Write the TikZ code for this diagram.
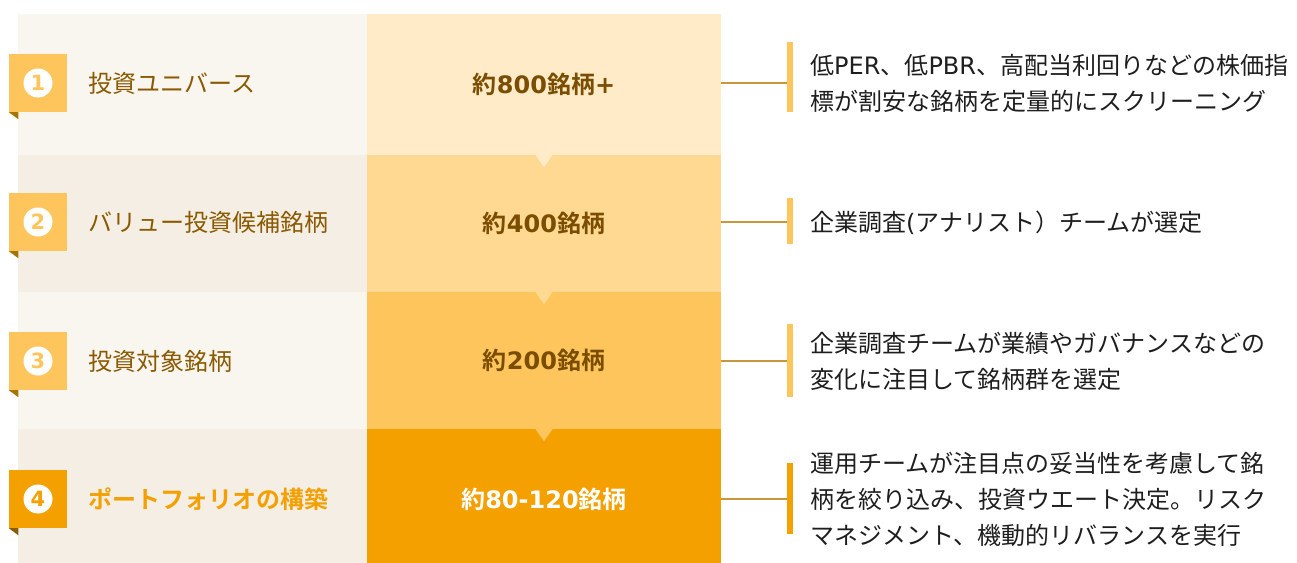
\documentclass[tikz,border=0pt]{standalone}
\usepackage{fontspec}
\newfontfamily\jp{Noto Sans CJK JP}[BoldFont={Noto Sans CJK JP Bold}]
\newfontfamily\lat{DejaVu Sans}
\newcommand\LT[1]{{\lat #1}}
\definecolor{leftA}{HTML}{F9F5EF}
\definecolor{leftB}{HTML}{F5EEE4}
\definecolor{midA}{HTML}{FFEBC8}
\definecolor{midB}{HTML}{FFD892}
\definecolor{midC}{HTML}{FEC55C}
\definecolor{midD}{HTML}{F4A000}
\definecolor{foldA}{HTML}{A87400}
\definecolor{foldD}{HTML}{8A5C00}
\definecolor{lbltext}{HTML}{8A5A00}
\definecolor{midtext}{HTML}{7A4D00}
\definecolor{desctext}{HTML}{1E1E1E}
\definecolor{connc}{HTML}{C8963C}
\begin{document}
\begin{tikzpicture}[x=1pt,y=-1pt,
  midbox/.style={inner sep=0, minimum width=354pt, font=\jp\bfseries\fontsize{24}{28}\selectfont, text=midtext},
  badge/.style={fill=midC, minimum size=58pt, inner sep=0},
  numc/.style={circle, fill=white, minimum size=29pt, inner sep=0, font=\lat\bfseries\fontsize{21}{21}\selectfont, text=midC},
  lbl/.style={anchor=west, inner sep=0, font=\jp\fontsize{24}{28}\selectfont, text=lbltext},
  desc/.style={anchor=west, inner sep=0, align=left, font=\jp\fontsize{24}{36}\selectfont, text=desctext},
  barbox/.style={fill=midC, minimum width=6pt, inner sep=0},
  conn/.style={draw=connc, line width=1.5pt}]
\useasboundingbox (0,0) rectangle (1297,562);
% left panels
\fill[leftA] (18,14) rectangle (367,155);
\fill[leftB] (18,155) rectangle (367,292);
\fill[leftA] (18,292) rectangle (367,429);
\fill[leftB] (18,429) rectangle (367,570);
% middle column
\node[midbox, fill=midA, minimum height=141pt] (m1) at (544,84.5) {約\LT{800}銘柄\LT{+}};
\node[midbox, fill=midB, minimum height=137pt] (m2) at (544,223.5) {約\LT{400}銘柄};
\node[midbox, fill=midC, minimum height=137pt] (m3) at (544,360.5) {約\LT{200}銘柄};
\node[midbox, fill=midD, minimum height=140pt, text=white] (m4) at (544,499) {約\LT{80-120}銘柄};
% notches
\fill[midA] (m1.south) ++(-8.5,0) -- ++(17,0) -- ++(-8.5,12) -- cycle;
\fill[midB] (m2.south) ++(-8.5,0) -- ++(17,0) -- ++(-8.5,12) -- cycle;
\fill[midC] (m3.south) ++(-8.5,0) -- ++(17,0) -- ++(-8.5,12) -- cycle;
% badges
\node[badge] (n1) at (38,83) {};
\node[badge] (n2) at (38,222) {};
\node[badge] (n3) at (38,361) {};
\node[badge, fill=midD] (n4) at (38,499) {};
\fill[foldA] (n1.south west) -- ++(9.5,0) -- ++(0,7) -- cycle;
\fill[foldA] (n2.south west) -- ++(9.5,0) -- ++(0,7) -- cycle;
\fill[foldA] (n3.south west) -- ++(9.5,0) -- ++(0,7) -- cycle;
\fill[foldD] (n4.south west) -- ++(9.5,0) -- ++(0,7) -- cycle;
\node[numc] (c1) at (n1) {1};
\node[numc] (c2) at (n2) {2};
\node[numc] (c3) at (n3) {3};
\node[numc, text=midD] (c4) at (n4) {4};
% labels
\node[lbl] (l1) at (88,83) {投資ユニバース};
\node[lbl] (l2) at (88,222) {バリュー投資候補銘柄};
\node[lbl] (l3) at (88,361) {投資対象銘柄};
\node[lbl, text=midD, font=\jp\bfseries\fontsize{24}{28}\selectfont] (l4) at (88,499) {ポートフォリオの構築};
% bars
\node[barbox, minimum height=70pt] (b1) at (790,77) {};
\node[barbox, minimum height=46pt] (b2) at (790,221) {};
\node[barbox, minimum height=73pt] (b3) at (790,360.5) {};
\node[barbox, fill=midD, minimum height=71pt] (b4) at (790,498.5) {};
% connectors
\draw[conn] (m1.east |- n1) -- (b1.west |- n1);
\draw[conn] (m2.east |- n2) -- (b2.west |- n2);
\draw[conn] (m3.east |- n3) -- (b3.west |- n3);
\draw[conn] (m4.east |- n4) -- (b4.west |- n4);
% descriptions
\node[desc] (d1) at (810,83) {低\LT{PER}、低\LT{PBR}、高配当利回りなどの株価指\\標が割安な銘柄を定量的にスクリーニング};
\node[desc] (d2) at (810,223) {企業調査\LT{(}アナリスト）チームが選定};
\node[desc] (d3) at (810,361) {企業調査チームが業績やガバナンスなどの\\変化に注目して銘柄群を選定};
\node[desc] (d4) at (810,499) {運用チームが注目点の妥当性を考慮して銘\\柄を絞り込み、投資ウエート決定。リスク\\マネジメント、機動的リバランスを実行};
\end{tikzpicture}
\end{document}
